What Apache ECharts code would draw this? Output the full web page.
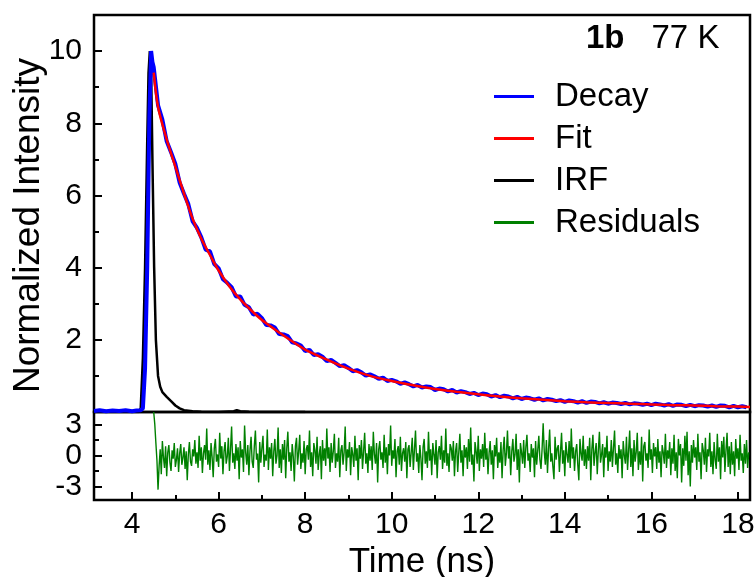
<!DOCTYPE html>
<html>
<head>
<meta charset="utf-8">
<script src="https://cdn.jsdelivr.net/npm/echarts@6/dist/echarts.min.js"></script>
<style>html,body{margin:0;padding:0;background:#fff}#c{width:754px;height:577px}</style>
</head>
<body>
<div id="c"></div>
<script>
// ---- data ----
const xMajor = [4, 6, 8, 10, 12, 14, 16, 18];
const xMinor = [5, 7, 9, 11, 13, 15, 17];
const yTopMajor = [2, 4, 6, 8, 10];
const yTopMinor = [1, 3, 5, 7, 9];
const yBotMajor = [-3, 0, 3];
const yBotMinor = [-1.5, 1.5];

// instrument response function
const irfT = [3.12, 4.15, 4.2, 4.25, 4.3, 4.35, 4.38, 4.41, 4.44, 4.47, 4.51, 4.55, 4.6, 4.65, 4.7, 4.8, 4.9, 5.0, 5.1, 5.2, 5.4, 5.6, 6.0, 6.35, 6.42, 6.5, 6.7, 7.0, 8.0];
const irfV = [0, 0, 0.1, 1.5, 4.0, 7.5, 9.4, 10.0, 9.5, 7.0, 4.0, 2.0, 1.0, 0.7, 0.55, 0.42, 0.3, 0.18, 0.1, 0.05, 0.02, 0.01, 0, 0.02, 0.05, 0.02, 0.01, 0, 0];

// decay: baseline and rise
const decayHeadT = [3.12, 3.25, 3.4, 3.55, 3.7, 3.85, 4.0, 4.1, 4.2, 4.25, 4.3, 4.35, 4.4, 4.44, 4.47];
const decayHeadV = [0.03, 0.05, 0.02, 0.04, 0.03, 0.05, 0.02, 0.04, 0.05, 0.1, 1.2, 4.0, 8.2, 10.0, 9.7];
// decay tail, channels every 0.1 ns starting at 4.5 ns
const decayTailStart = 4.5, decayTailStep = 0.1;
const decayTailV = [
  9.55, 8.5, 8.1, 7.5, 7.2, 6.87, 6.35, 6.05, 5.76, 5.28,
  5.1, 4.84, 4.5, 4.45, 4.1, 3.98, 3.68, 3.58, 3.46, 3.2,
  3.2, 2.97, 2.9, 2.7, 2.72, 2.6, 2.41, 2.4, 2.34, 2.16,
  2.15, 2.1, 1.93, 1.9, 1.84, 1.69, 1.72, 1.58, 1.6, 1.53,
  1.41, 1.44, 1.36, 1.27, 1.3, 1.22, 1.13, 1.16, 1.1, 1.01,
  1.04, 0.99, 0.92, 0.95, 0.86, 0.89, 0.85, 0.78, 0.82, 0.77,
  0.71, 0.75, 0.68, 0.71, 0.69, 0.61, 0.65, 0.63, 0.57, 0.61,
  0.54, 0.58, 0.55, 0.5, 0.53, 0.47, 0.51, 0.49, 0.43, 0.47,
  0.41, 0.45, 0.43, 0.38, 0.42, 0.36, 0.4, 0.38, 0.34, 0.38,
  0.32, 0.36, 0.34, 0.3, 0.33, 0.28, 0.32, 0.3, 0.26, 0.3,
  0.25, 0.29, 0.28, 0.24, 0.27, 0.23, 0.26, 0.25, 0.22, 0.25,
  0.21, 0.24, 0.23, 0.2, 0.23, 0.19, 0.23, 0.21, 0.18, 0.22,
  0.17, 0.21, 0.2, 0.16, 0.2, 0.16, 0.19, 0.18, 0.15, 0.18,
  0.14, 0.18, 0.17, 0.13, 0.17, 0.13, 0.16, 0.13
];

// fit curve
const fitT = [4.5, 4.6, 4.8, 5.0, 5.2, 5.4, 5.6, 5.8, 6.0, 6.25, 6.5, 6.75, 7.0, 7.25, 7.5, 7.75, 8.0, 8.5, 9.0, 9.5, 10.0, 10.5, 11.0, 11.5, 12.0, 12.5, 13.0, 13.5, 14.0, 14.5, 15.0, 15.5, 16.0, 16.5, 17.0, 17.5, 18.0, 18.28];
const fitV = [9.4, 8.45, 7.55, 6.8, 6.05, 5.35, 4.8, 4.35, 3.92, 3.48, 3.12, 2.82, 2.55, 2.33, 2.12, 1.92, 1.73, 1.45, 1.2, 1.0, 0.86, 0.74, 0.64, 0.56, 0.49, 0.43, 0.38, 0.34, 0.3, 0.27, 0.25, 0.23, 0.21, 0.19, 0.18, 0.16, 0.15, 0.14];

// residuals, every 0.025 ns starting at 4.5 ns
const resStart = 4.5, resStep = 0.025;
const resV = [
  4.2, 3.0, 1.2, -0.5, -3.3, -1.0, 0.6, -1.8, 1.4, -0.2, -1.2, 0.9, -2.0, 0.3, 1.0, -0.7, -1.5, 0.5, -0.3, 1.2, -1.1, -0.4, 0.7, -1.6, 0.2, 1.1, -0.9, -0.2, 0.8, -1.3, 0.4, -2.4, 0.1, 1.3, -0.6, -1.0, 0.6, -0.1, 1.5, -0.8,
  0.3, -1.2, 1.9, -0.5, 0.8, -1.7, 0.2, 1.0, -0.4, 2.6, -0.9, 0.5, -1.4, 1.2, -0.2, -2.1, 0.7, 1.6, -0.6, 0.1, -1.1, 2.2, -0.3, 0.9, -1.8, 0.4, 1.3, -0.8, -0.1, 1.7, -1.5, 0.6, 2.8, -0.7, 0.2, -1.3, 1.1, -0.5, 0.8, -2.3,
  1.4, -0.2, 0.6, -1.6, 2.9, 0.3, -0.9, 1.0, -1.9, 0.5, 1.8, -0.6, -1.2, 0.9, 2.4, -0.4, 0.2, -2.6, 1.3, -0.7, 0.7, 1.9, -1.1, 0.1, -0.5, 2.5, -1.4, 0.8, -0.3, 1.2, -2.0, 0.4, 1.6, -0.8, 0.0, 2.7, -1.2, 0.6, -1.7, 1.1,
  -0.4, 1.5, -2.2, 0.7, 2.3, -0.6, 0.3, -1.5, 1.1, -0.1, -2.5, 0.9, 1.7, -0.9, 0.4, 2.0, -1.3, 0.2, -0.7, 1.4, -1.8, 0.6, 1.0, -0.4, 2.4, -1.1, 0.3, -2.0, 1.2, 0.5, -0.8, 1.8, -1.4, 0.1, 0.9, -2.3, 1.5, -0.5, 0.7, -1.0,
  2.6, -0.3, 0.8, -1.6, 1.2, -0.7, 0.4, 2.1, -1.2, 0.2, -0.6, 1.7, -2.1, 0.5, 1.0, -0.9, 0.3, 2.8, -1.5, 0.6, -0.2, 1.3, -1.9, 0.8, 0.1, -1.1, 1.9, -0.5, 0.7, -2.4, 1.0, -0.3, 1.5, -1.3, 0.4, 2.2, -0.8, 0.2, -1.7, 1.1,
  -0.5, 0.9, -1.4, 2.3, 0.1, -0.8, 1.2, -2.6, 0.6, 1.4, -0.4, 0.3, -1.2, 2.0, -0.7, 0.8, -1.8, 1.1, 0.0, 2.9, -1.0, 0.5, -0.3, 1.6, -2.1, 0.4, 0.9, -0.9, 1.8, -1.5, 0.2, 0.7, -0.6, 1.3, -2.2, 0.6, 1.0, -1.1, 0.3, 1.7,
  -1.4, 0.5, 2.4, -0.6, 0.2, -1.7, 1.0, -0.3, -2.4, 0.8, 1.6, -0.8, 0.4, -1.2, 2.3, -0.5, 0.6, -1.9, 1.2, 0.1, -0.9, 1.5, -2.2, 0.3, 0.9, -0.4, 1.9, -1.3, 0.5, -0.7, 2.6, -1.0, 0.2, -1.6, 1.1, 0.7, -0.5, 1.4, -2.0, 0.4,
  1.2, -1.6, 0.3, 2.1, -0.7, 0.5, -2.0, 1.0, -0.2, 0.8, -1.3, 1.6, -0.6, 2.7, -0.9, 0.1, -2.5, 1.3, 0.4, -0.8, 1.9, -1.5, 0.6, -0.3, 1.1, -1.1, 2.2, -0.4, 0.7, -1.8, 0.2, 1.4, -0.9, 0.5, -2.3, 1.0, -0.1, 1.7, -1.2, 0.3,
  -0.7, 1.3, -2.2, 0.5, 1.8, -1.0, 0.2, 2.4, -0.3, 0.9, -1.9, 0.4, 1.6, -0.6, 0.1, 2.1, -1.4, 0.6, -2.6, 1.2, 0.3, -0.8, 1.5, -1.2, 0.8, 2.0, -0.5, 0.2, -1.6, 1.1, -0.2, 0.7, -2.1, 1.4, -0.9, 0.5, 1.9, -0.4, -1.3, 0.6,
  3.1, 0.4, -0.9, 1.5, -1.7, 0.6, 2.5, -0.6, 0.2, -1.1, -2.3, 1.8, -0.4, 0.7, 1.0, -1.6, 0.3, 2.2, -0.8, 0.5, -2.0, 1.3, 0.1, -0.7, 1.4, -1.2, 2.6, -0.3, 0.8, -1.5, 0.4, 1.1, -0.9, -2.4, 1.6, 0.2, -0.5, 1.9, -1.0, 0.6,
  -1.3, 0.9, -0.5, 1.7, -2.4, 0.6, 2.0, -1.0, 0.3, 1.2, -1.8, 0.5, 2.3, -0.7, 0.1, 1.1, -2.1, 0.8, -0.2, 1.9, -1.5, 0.4, -0.6, 1.5, -1.1, 0.7, 2.4, -0.9, 0.2, -1.7, 1.0, -0.3, 0.6, -2.2, 1.4, 0.0, -0.8, 1.8, -1.4, 0.5,
  2.4, -1.1, 0.7, -2.0, 1.5, -0.6, 0.3, 2.2, -1.4, 0.4, -0.9, 1.8, -2.5, 0.9, 1.3, -0.5, 0.2, -1.2, 2.5, -0.4, 0.6, -1.7, 1.2, -0.1, 0.8, -1.3, 1.6, -0.7, 0.4, -2.1, 1.0, 0.3, -0.8, 2.1, -1.2, 0.5, -0.3, 1.3, -1.9, 0.7,
  -0.8, 2.0, -1.5, 0.3, -2.2, 1.6, 0.0, 1.1, -2.6, 0.7, -1.0, 1.9, -0.5, 2.3, -1.9, 0.4, -3.0, 1.0, -0.7, 1.5, -0.2, 0.8, -1.4, 2.1, -0.6, 0.3, -2.3, 1.2, 0.5, -0.9, 1.7, -1.6, 0.6, -0.1, 2.2, -1.1, 0.4, -1.8, 1.3, -0.4,
  -1.3, 2.1, -0.6, 0.8, -2.3, 1.4, -0.2, 1.8, -1.6, 0.5, 2.2, -1.1, 0.9, -1.8, 1.3, -0.9, 0.4, -2.0, 1.6, -0.3, 0.7, -1.4, 2.0, -0.5, 0.2, -1.7, 1.1, -0.8, 1.5, -1.2, 0.3
];

// ---- build series data ----
const irfData = irfT.map((t, i) => [t, irfV[i]]);
const decayData = decayHeadT.map((t, i) => [t, decayHeadV[i]])
  .concat(decayTailV.map((v, i) => [decayTailStart + i * decayTailStep, v]));
const fitData = fitT.map((t, i) => [t, fitV[i]]);
const resData = resV.map((v, i) => [resStart + i * resStep, v]);

const FONT = '"Liberation Sans", Arial, sans-serif';
const chart = echarts.init(document.getElementById('c'), null, {renderer: 'canvas'});

function tickAxis(extra) {
  return Object.assign({
    type: 'value',
    splitLine: {show: false},
    axisLine: {show: false, onZero: false}
  }, extra);
}

const xBase = {min: 3.12, max: 18.28};
const option = {
  animation: false,
  backgroundColor: '#fff',
  textStyle: {fontFamily: FONT},
  title: {
    text: '{b|1b}{n|77 K}',
    left: 586, top: 22, padding: 0,
    textStyle: {
      fontFamily: FONT, fontSize: 33, fontWeight: 'normal', color: '#000',
      rich: {
        b: {fontFamily: FONT, fontSize: 33, fontWeight: 'bold', color: '#000', padding: [0, 27, 0, 0]},
        n: {fontFamily: FONT, fontSize: 33, fontWeight: 'normal', color: '#000'}
      }
    }
  },
  legend: {
    orient: 'vertical', left: 494, top: 80, padding: 0,
    itemWidth: 40, itemHeight: 3, itemGap: 9, icon: 'rect',
    textStyle: {fontFamily: FONT, fontSize: 33, color: '#000', padding: [0, 0, 0, 16]},
    data: ['Decay', 'Fit', 'IRF', 'Residuals']
  },
  grid: [
    {left: 94, right: 4, top: 15, height: 397, show: true, borderColor: '#000', borderWidth: 2.5, backgroundColor: 'transparent', containLabel: false, outerBoundsMode: 'none'},
    {left: 94, right: 4, top: 412, height: 88, show: true, borderColor: '#000', borderWidth: 2.5, backgroundColor: 'transparent', containLabel: false, outerBoundsMode: 'none'}
  ],
  xAxis: [
    tickAxis(Object.assign({gridIndex: 0, position: 'bottom', axisTick: {show: false}, axisLabel: {show: false}}, xBase)),
    tickAxis(Object.assign({
      gridIndex: 1, position: 'bottom',
      name: 'Time (ns)', nameLocation: 'middle', nameGap: 45, nameMoveOverlap: false,
      nameTextStyle: {fontFamily: FONT, fontSize: 35, color: '#000'},
      axisTick: {inside: true, length: 8, lineStyle: {color: '#000', width: 2}, customValues: xMajor},
      axisLabel: {fontFamily: FONT, fontSize: 30, color: '#000', margin: 10, customValues: xMajor, hideOverlap: false}
    }, xBase)),
    tickAxis(Object.assign({
      gridIndex: 1, position: 'bottom',
      axisTick: {inside: true, length: 5, lineStyle: {color: '#000', width: 2}, customValues: xMinor},
      axisLabel: {show: false}
    }, xBase))
  ],
  yAxis: [
    tickAxis({
      gridIndex: 0, position: 'left', min: 0, max: 11,
      name: 'Normalized Intensity', nameLocation: 'middle', nameGap: 47, nameMoveOverlap: false,
      nameTextStyle: {fontFamily: FONT, fontSize: 37, color: '#000', padding: [0, 24, 0, 0]},
      axisTick: {inside: true, length: 8, lineStyle: {color: '#000', width: 2}, customValues: yTopMajor},
      axisLabel: {fontFamily: FONT, fontSize: 30, color: '#000', margin: 12, customValues: yTopMajor, hideOverlap: false}
    }),
    tickAxis({
      gridIndex: 0, position: 'left', min: 0, max: 11,
      axisTick: {inside: true, length: 5, lineStyle: {color: '#000', width: 2}, customValues: yTopMinor},
      axisLabel: {show: false}
    }),
    tickAxis({
      gridIndex: 1, position: 'left', min: -4.3, max: 4.2,
      axisTick: {inside: true, length: 8, lineStyle: {color: '#000', width: 2}, customValues: yBotMajor},
      axisLabel: {fontFamily: FONT, fontSize: 30, color: '#000', margin: 12, customValues: yBotMajor, hideOverlap: false}
    }),
    tickAxis({
      gridIndex: 1, position: 'left', min: -4.3, max: 4.2,
      axisTick: {inside: true, length: 5, lineStyle: {color: '#000', width: 2}, customValues: yBotMinor},
      axisLabel: {show: false}
    })
  ],
  series: [
    {name: 'IRF', type: 'line', xAxisIndex: 0, yAxisIndex: 0, data: irfData, showSymbol: false, symbol: 'none',
     color: '#000', lineStyle: {color: '#000', width: 2.5}, z: 2},
    {name: 'Decay', type: 'line', xAxisIndex: 0, yAxisIndex: 0, data: decayData, showSymbol: false, symbol: 'none',
     color: '#0000ff', lineStyle: {color: '#0000ff', width: 4}, z: 3},
    {name: 'Fit', type: 'line', xAxisIndex: 0, yAxisIndex: 0, data: fitData, showSymbol: false, symbol: 'none', smooth: 0.3,
     color: '#ff0000', lineStyle: {color: '#ff0000', width: 2.5}, z: 4},
    {name: 'Residuals', type: 'line', xAxisIndex: 1, yAxisIndex: 2, data: resData, showSymbol: false, symbol: 'none',
     color: '#008000', lineStyle: {color: '#008000', width: 1.4}, z: 2}
  ]
};
chart.setOption(option);
</script>
</body>
</html>
